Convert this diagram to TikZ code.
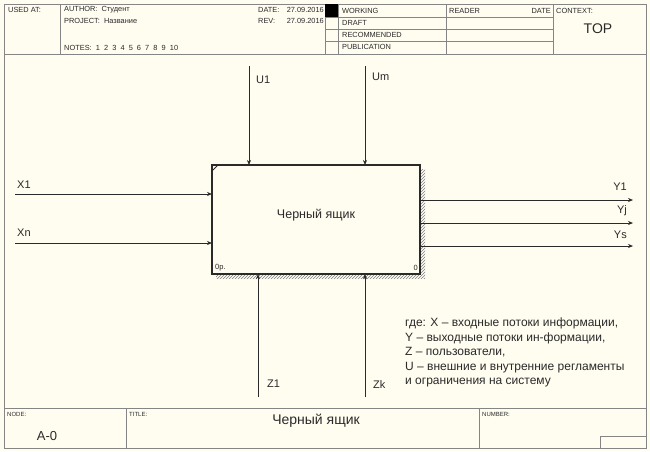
\documentclass[tikz,border=0pt]{standalone}
\usepackage{fontspec}
\setmainfont{Liberation Sans}
\usetikzlibrary{patterns}
\definecolor{paper}{HTML}{FFFCF0}
\definecolor{frame}{HTML}{858585}
\definecolor{ink}{HTML}{2A2A2A}
\tikzset{
  tiny/.style={font=\fontsize{7.4}{8}\selectfont,anchor=west,inner sep=0pt,text=ink},
  lbl/.style={font=\fontsize{11}{12}\selectfont,text=ink,inner sep=0pt},
  flow/.style={->,ink,line width=0.7pt,>={Stealth[length=5pt,width=4pt]}},
}
\usetikzlibrary{arrows.meta}
\begin{document}
\begin{tikzpicture}[x=1pt,y=-1pt]
\useasboundingbox (0,0) rectangle (650,451);
\fill[paper] (0,0) rectangle (650,451);
% frame and header
\draw[frame,line width=0.8pt] (4,4) rectangle (646,448);
\draw[frame,line width=0.8pt] (4,54)--(646,54) (60,4)--(60,54) (325,4)--(325,54) (338,4)--(338,54) (446,4)--(446,54) (553,4)--(553,54);
\draw[frame,line width=0.8pt] (325,17)--(553,17) (325,29)--(553,29) (325,41)--(553,41);
\fill[black] (325,4) rectangle (338,17);
\node[tiny] (usedat) at (8,10) {USED AT:};
\node[tiny] (author) at (64,10) {AUTHOR:\ \ Студент};
\node[tiny] (project) at (64,21) {PROJECT:\ \ Название};
\node[tiny] (notes) at (64,48) {NOTES:\ \ 1\ \ 2\ \ 3\ \ 4\ \ 5\ \ 6\ \ 7\ \ 8\ \ 9\ \ 10};
\node[tiny] (date) at (258,10) {DATE:};
\node[tiny,anchor=east] (dateval) at (324,10) {27.09.2016};
\node[tiny] (rev) at (258,21) {REV:};
\node[tiny,anchor=east] (revval) at (324,21) {27.09.2016};
\node[tiny] (working) at (342,11) {WORKING};
\node[tiny] (draft) at (342,23) {DRAFT};
\node[tiny] (recom) at (342,35) {RECOMMENDED};
\node[tiny] (publ) at (342,47) {PUBLICATION};
\node[tiny] (reader) at (449,11) {READER};
\node[tiny,anchor=east] (rdate) at (551,11) {DATE};
\node[tiny] (context) at (556,11) {CONTEXT:};
\node[lbl,font=\fontsize{14}{15}\selectfont] (top) at (598,29) {TOP};
% footer
\draw[frame,line width=0.8pt] (4,408)--(646,408) (126,408)--(126,448) (479,408)--(479,448);
\draw[frame,line width=0.8pt] (600,436) rectangle (646,448);
\node[tiny,font=\fontsize{6}{6}\selectfont] (nodelbl) at (7,414) {NODE:};
\node[lbl,font=\fontsize{13}{14}\selectfont] (nodenum) at (47,436) {A-0};
\node[tiny,font=\fontsize{6}{6}\selectfont] (titlelbl) at (129,414) {TITLE:};
\node[lbl,font=\fontsize{14}{15}\selectfont] (title) at (316,421) {Черный ящик};
\node[tiny,font=\fontsize{6}{6}\selectfont] (numlbl) at (482,414) {NUMBER:};
% the box
\fill[pattern=north east lines,pattern color=gray] (216,169) rectangle (425,278);
\draw[ink,line width=1.3pt,fill=paper] (212,165) rectangle (420,274);
\draw[ink,line width=0.8pt] (212,171)--(218,165);
\node[lbl,font=\fontsize{12.5}{14}\selectfont] (box) at (316,215) {Черный ящик};
\node[tiny,font=\fontsize{7.5}{8}\selectfont] (bl) at (215,268) {0р.};
\node[tiny,font=\fontsize{7.5}{8}\selectfont,anchor=east] (br) at (418,268) {0};
% end points of the arrows
\coordinate (x1s) at (15,194);  \coordinate (x1e) at (212,194);
\coordinate (xns) at (15,243);  \coordinate (xne) at (212,243);
\coordinate (y1s) at (420,200); \coordinate (y1e) at (633,200);
\coordinate (yjs) at (420,223); \coordinate (yje) at (633,223);
\coordinate (yss) at (420,246); \coordinate (yse) at (633,246);
\coordinate (u1s) at (249,66);  \coordinate (u1e) at (249,165);
\coordinate (ums) at (365,66);  \coordinate (ume) at (365,165);
\coordinate (z1s) at (258,397); \coordinate (z1e) at (258,274);
\coordinate (zks) at (365,397); \coordinate (zke) at (365,274);
\draw[flow] (x1s)--(x1e);
\draw[flow] (xns)--(xne);
\draw[flow] (y1s)--(y1e);
\draw[flow] (yjs)--(yje);
\draw[flow] (yss)--(yse);
\draw[flow] (u1s)--(u1e);
\draw[flow] (ums)--(ume);
\draw[flow] (z1s)--(z1e);
\draw[flow] (zks)--(zke);
\node[lbl,anchor=west] (x1) at (17,185) {X1};
\node[lbl,anchor=west] (xn) at (17,233) {Xn};
\node[lbl,anchor=east] (y1) at (627,187) {Y1};
\node[lbl,anchor=east] (yj) at (627,211) {Yj};
\node[lbl,anchor=east] (ys) at (627,235) {Ys};
\node[lbl,anchor=west] (u1) at (256,80) {U1};
\node[lbl,anchor=west] (um) at (372,77) {Um};
\node[lbl,anchor=west] (z1) at (267,384) {Z1};
\node[lbl,anchor=west] (zk) at (373,385) {Zk};
% legend
\node[lbl,font=\fontsize{12}{14.5}\selectfont,anchor=north west,align=left] (legend) at (405,318)
  {где: X -- входные потоки информации,\\
   Y -- выходные потоки ин-формации,\\
   Z -- пользователи,\\
   U -- внешние и внутренние регламенты\\
   и ограничения на систему};
\end{tikzpicture}
\end{document}
